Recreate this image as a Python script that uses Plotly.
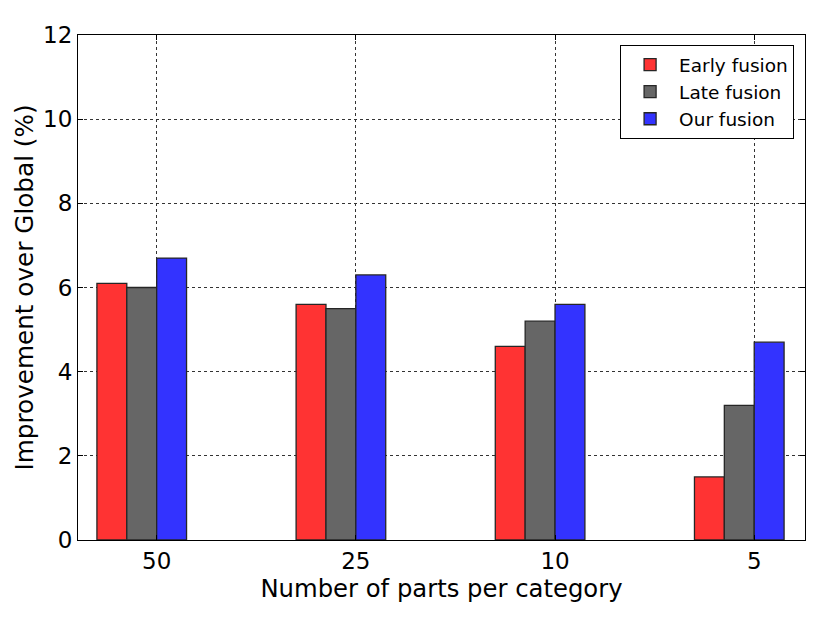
import plotly.graph_objects as go

categories = ["50", "25", "10", "5"]
early_fusion = [6.1, 5.6, 4.6, 1.5]
late_fusion = [6.0, 5.5, 5.2, 3.2]
our_fusion = [6.7, 6.3, 5.6, 4.7]

positions = list(range(len(categories)))
bar_w = 0.15
series = [
    ("Early fusion", early_fusion, "#ff3333", -0.30),
    ("Late fusion", late_fusion, "#666666", -0.15),
    ("Our fusion", our_fusion, "#3333ff", 0.0),
]

fig = go.Figure()
for name, vals, color, off in series:
    fig.add_trace(go.Bar(
        x=positions, y=vals, name=name, width=bar_w, offset=off,
        legendgroup=name,
        marker=dict(color=color, line=dict(color="#262626", width=1.3)),
    ))

font = "DejaVu Sans, sans-serif"
fig.update_layout(
    width=822, height=615,
    barmode="overlay",
    paper_bgcolor="white", plot_bgcolor="white",
    margin=dict(l=70, r=25, t=27, b=83),
    font=dict(family=font, color="black"),
    legend=dict(
        x=0.985, y=0.98, xanchor="right", yanchor="top",
        bordercolor="black", borderwidth=1, bgcolor="white",
        font=dict(size=18.5, family=font),
        tracegroupgap=0, itemwidth=48,
    ),
    xaxis=dict(
        range=[-0.395, 3.255],
        tickvals=positions, ticktext=categories,
        tickfont=dict(size=23, family=font),
        title=dict(text="Number of parts per category", font=dict(size=24.3, family=font), standoff=0),
        showline=True, mirror="ticks", linecolor="black", linewidth=1.2,
        showgrid=True, gridcolor="#333333", griddash="dot", gridwidth=1,
        ticks="inside", ticklen=5, tickcolor="black",
        zeroline=False, automargin=False,
    ),
    yaxis=dict(
        range=[0, 12], dtick=2,
        tickfont=dict(size=23, family=font),
        title=dict(text="Improvement over Global (%)", font=dict(size=24.7, family=font), standoff=2),
        showline=True, mirror="ticks", linecolor="black", linewidth=1.2,
        showgrid=True, gridcolor="#333333", griddash="dot", gridwidth=1,
        ticks="inside", ticklen=5, tickcolor="black",
        zeroline=False, automargin=False,
    ),
)

fig.write_html("out.html")
